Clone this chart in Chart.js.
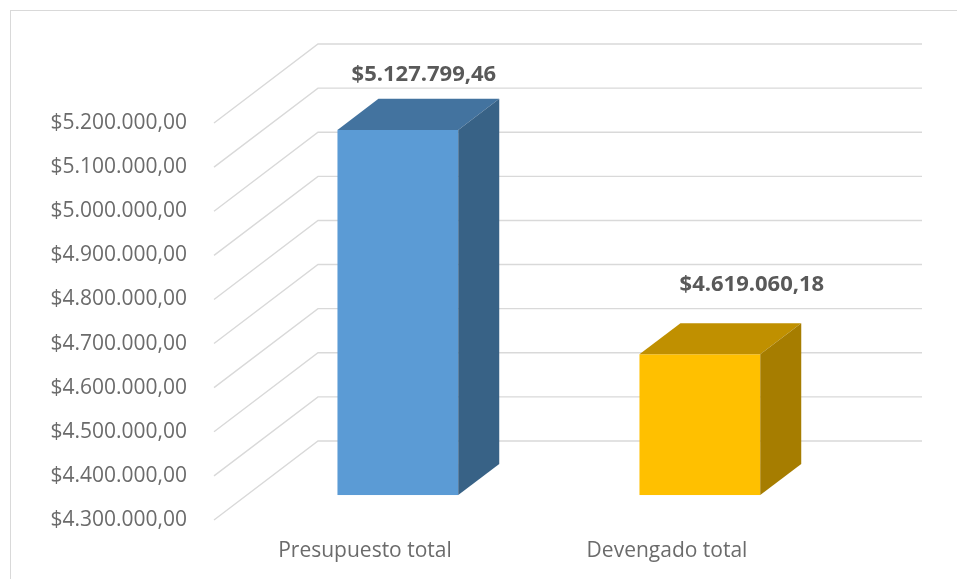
<!DOCTYPE html>
<html>
<head>
<meta charset="utf-8">
<script src="https://cdn.jsdelivr.net/npm/chart.js@4.4.1/dist/chart.umd.min.js"></script>
<style>
  body { margin: 0; background: #fff; }
  canvas { display: block; }
</style>
</head>
<body>
<canvas id="presupuesto" width="957" height="579"></canvas>
<script>
// datos del grafico
const categorias = ['Presupuesto total', 'Devengado total'];
const montos = [5127799.46, 4619060.18];
const ejeMin = 4300000;
const ejeMax = 5200000;
const ejePaso = 100000;

// colores de las caras (frente, arriba, lado)
const carasColor = [
  { frente: '#5b9bd5', arriba: '#43739f', lado: '#386286' },
  { frente: '#ffc000', arriba: '#c09000', lado: '#a67d00' }
];

// formato $5.127.799,46
const formatoPeso = v => {
  const partes = Number(v).toFixed(2).split('.');
  const entero = partes[0].replace(/\B(?=(\d{3})+(?!\d))/g, '.');
  return '$' + entero + ',' + partes[1];
};

// profundidad de la vista 3D
const prof = { x: 104, y: -79 };
const frenteBarra = 0.316;   // donde empieza la barra dentro de la profundidad
const fondoBarra = 0.394;    // grosor de la barra
const ajusteEtiqueta = [{ x: 26, y: -24 }, { x: 52, y: -38 }];

const grilla3d = {
  id: 'grilla3d',
  beforeDraw(chart) {
    const ctx = chart.ctx;
    ctx.save();
    ctx.strokeStyle = '#d9d9d9';
    ctx.lineWidth = 1;
    ctx.strokeRect(10.5, 10.5, chart.width + 20, chart.height + 20);
    ctx.restore();
  },
  beforeDatasetsDraw(chart) {
    const ctx = chart.ctx;
    const y = chart.scales.y;
    const area = chart.chartArea;
    ctx.save();
    ctx.strokeStyle = '#d9d9d9';
    ctx.lineWidth = 1.4;
    y.ticks.forEach(t => {
      const py = y.getPixelForValue(t.value);
      ctx.beginPath();
      ctx.moveTo(area.left, py);
      ctx.lineTo(area.left + prof.x, py + prof.y);
      ctx.lineTo(area.right + prof.x, py + prof.y);
      ctx.stroke();
    });
    ctx.restore();
  },
  afterDatasetsDraw(chart) {
    const ctx = chart.ctx;
    const meta = chart.getDatasetMeta(0);
    const fx = prof.x * frenteBarra, fy = prof.y * frenteBarra;
    const dx = prof.x * fondoBarra, dy = prof.y * fondoBarra;
    ctx.save();
    meta.data.forEach((bar, i) => {
      const c = carasColor[i];
      const l = bar.x - bar.width / 2 + fx;
      const r = bar.x + bar.width / 2 + fx;
      const t = bar.y + fy;
      const b = bar.base + fy;
      // frente
      ctx.fillStyle = c.frente;
      ctx.fillRect(l, t, r - l, b - t);
      // arriba
      ctx.fillStyle = c.arriba;
      ctx.beginPath();
      ctx.moveTo(l, t);
      ctx.lineTo(l + dx, t + dy);
      ctx.lineTo(r + dx, t + dy);
      ctx.lineTo(r, t);
      ctx.closePath();
      ctx.fill();
      // lado
      ctx.fillStyle = c.lado;
      ctx.beginPath();
      ctx.moveTo(r, t);
      ctx.lineTo(r + dx, t + dy);
      ctx.lineTo(r + dx, b + dy);
      ctx.lineTo(r, b);
      ctx.closePath();
      ctx.fill();
      // etiqueta
      ctx.fillStyle = '#595959';
      ctx.font = 'bold 22px "Open Sans"';
      ctx.textAlign = 'center';
      ctx.textBaseline = 'middle';
      ctx.fillText(formatoPeso(montos[i]), bar.x + fx + ajusteEtiqueta[i].x, t + dy + ajusteEtiqueta[i].y);
    });
    ctx.restore();
  }
};

new Chart(document.getElementById('presupuesto').getContext('2d'), {
  type: 'bar',
  data: {
    labels: categorias,
    datasets: [{
      data: montos,
      base: ejeMin,
      backgroundColor: 'rgba(0,0,0,0)',
      borderWidth: 0,
      barPercentage: 1,
      categoryPercentage: 0.4
    }]
  },
  options: {
    responsive: false,
    animation: false,
    devicePixelRatio: 1,
    layout: { padding: { left: 10, top: 123, right: 139, bottom: 0 } },
    plugins: {
      legend: { display: false },
      tooltip: { enabled: false }
    },
    scales: {
      x: {
        grid: { display: false, drawTicks: false },
        border: { display: false },
        afterFit: s => { s.height = 59; },
        ticks: {
          padding: 18,
          color: '#6b6b6b',
          font: { family: 'Open Sans', size: 21 }
        }
      },
      y: {
        min: ejeMin,
        max: ejeMax,
        grid: { display: false, drawTicks: false },
        border: { display: false },
        afterFit: s => { s.width = 204; },
        ticks: {
          stepSize: ejePaso,
          padding: 27,
          color: '#6b6b6b',
          font: { family: 'Open Sans', size: 21 },
          callback: v => formatoPeso(v)
        }
      }
    }
  },
  plugins: [grilla3d]
});
</script>
</body>
</html>
